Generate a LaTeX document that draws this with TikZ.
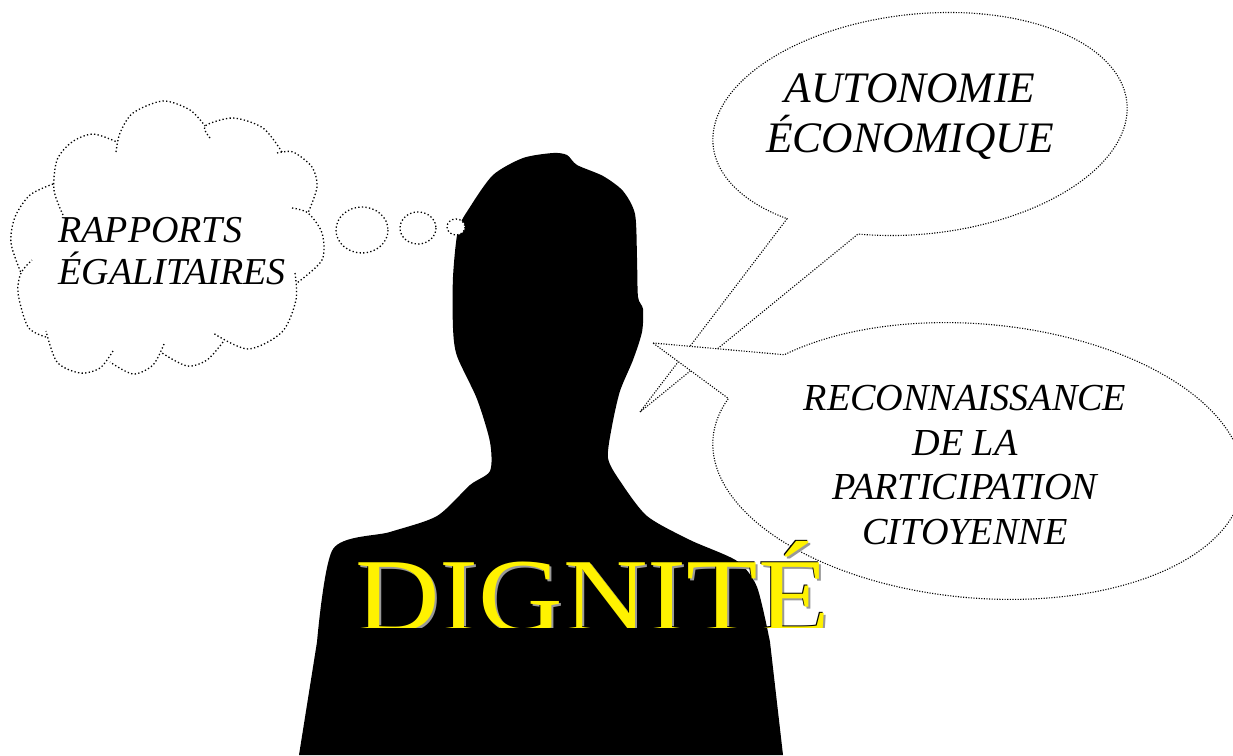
\documentclass[tikz,border=0pt]{standalone}
\usepackage{fontspec}
\setmainfont{Liberation Serif}
\tikzset{
  bubble/.style={draw=black, fill=white, line width=1.1pt, dash pattern=on 1.1pt off 1.5pt},
  cloudline/.style={draw=black, line width=1.3pt, dash pattern=on 1.3pt off 2.3pt},
  wish/.style={text=black, inner sep=0pt, align=center, font=\fontsize{43.5}{50}\selectfont\itshape},
  title/.style={inner sep=0pt, anchor=base west, font=\fontsize{105}{105}\selectfont},
}
\newcommand{\dignityword}{\scalebox{1.115}[1]{DIGNITÉ}}
\begin{document}
\begin{tikzpicture}[x=1pt,y=-1pt]

\useasboundingbox (0,0) rectangle (1233,755);

\fill[black] (299,755) -- plot[smooth,tension=.45] coordinates {(317,642) (333,549) (390,532) (437,516) (470,485) (490,471) (490,442) (477,399) (457,356) (453,328) (453,277) (458,230) (470,207) (493,175) (523,158) (553,153) (567,155) (577,165) (603,176) (623,191) (635,214) (637,258) (638,297) (643,309) (642,332) (633,360) (620,391) (612,426) (608,458) (620,481) (647,516) (690,540) (737,561) (757,587) (770,642)} -- (783,755) -- cycle;

\coordinate (auttip) at (640,412);
\coordinate (rectip) at (653,343);
\draw[bubble] (auttip) -- plot[domain=133.1:470.6,samples=150] ({920+208*cos(\x)*cos(6)+110*sin(\x)*sin(6)},{124-208*cos(\x)*sin(6)+110*sin(\x)*cos(6)}) -- cycle;
\draw[bubble] (rectip) -- plot[domain=220.5:557.2,samples=150] ({978+266*cos(\x)*cos(5)-137*sin(\x)*sin(5)},{461+266*cos(\x)*sin(5)+137*sin(\x)*cos(5)}) -- cycle;

\draw[cloudline] plot[smooth] coordinates {(63,215) (54,190) (57,160) (72,142) (93,134) (117,142)};
\draw[cloudline] plot[smooth] coordinates {(116,152) (120,133) (133,113) (163,101) (190,110) (205,126)};
\draw[cloudline] plot[smooth] coordinates {(210,138) (205,126) (233,118) (263,128) (282,152)};
\draw[cloudline] plot[smooth] coordinates {(277,153) (293,152) (312,167) (317,187) (308,213)};
\draw[cloudline] plot[smooth] coordinates {(292,208) (308,213) (322,233) (322,260) (297,283)};
\draw[cloudline] plot[smooth] coordinates {(295,273) (296,300) (282,332) (248,349) (213,333)};
\draw[cloudline] plot[smooth] coordinates {(223,342) (207,360) (187,366) (162,353)};
\draw[cloudline] plot[smooth] coordinates {(164,344) (153,365) (133,374) (110,362)};
\draw[cloudline] plot[smooth] coordinates {(113,351) (100,368) (80,373) (57,362) (46,331)};
\draw[cloudline] plot[smooth] coordinates {(46,337) (28,327) (18,293) (21,273) (32,260)};
\draw[cloudline] plot[smooth] coordinates {(53,184) (30,195) (15,217) (11,243) (21,273)};

\draw[cloudline,fill=white] (362,230) ellipse [x radius=26,y radius=23];
\draw[cloudline,fill=white] (418,228) ellipse [x radius=18,y radius=16];
\draw[cloudline,fill=white] (456,227) ellipse [x radius=9,y radius=8];

\node[wish] (autonomie) at (910,117) {AUTONOMIE\\ÉCONOMIQUE};
\node[wish,font=\fontsize{38.2}{44.7}\selectfont\itshape] (reconnaissance) at (965,465) {RECONNAISSANCE\\DE LA\\PARTICIPATION\\CITOYENNE};
\node[wish,align=left,font=\fontsize{38}{42}\selectfont\itshape] (rapports) at (172,251.5) {RAPPORTS\\ÉGALITAIRES};

\begin{scope}
\clip (0,0) rectangle (1233,627);
\node[title,text=black!40] (dignityshadow) at (357,633) {\dignityword};
\node[title,text=black] (dignityedge) at (354,630.5) {\dignityword};
\node[title,text=yellow] (dignity) at (355,631.5) {\dignityword};
\end{scope}

\end{tikzpicture}
\end{document}
